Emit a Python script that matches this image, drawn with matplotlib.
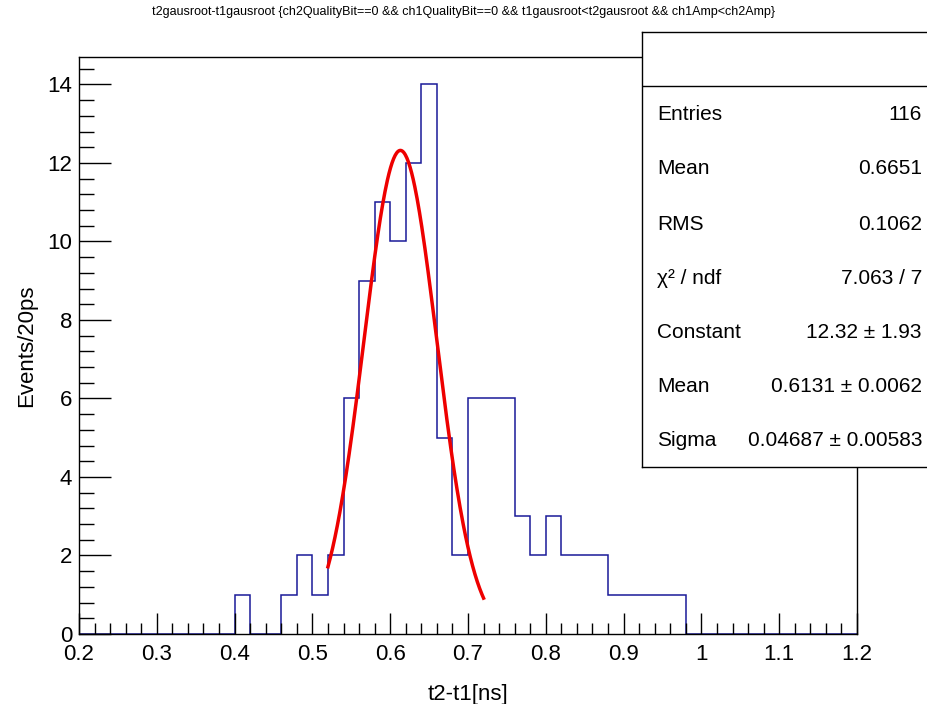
import matplotlib
matplotlib.use("Agg")
import matplotlib.pyplot as plt
from matplotlib.ticker import MultipleLocator
import numpy as np

plt.rcParams['font.family'] = ['Liberation Sans', 'DejaVu Sans']

# histogram: 20 ps bins from 0.2 to 1.2 ns
bin_edges = np.round(np.arange(0.2, 1.2001, 0.02), 2)
counts = [0, 0, 0, 0, 0, 0, 0, 0, 0, 0,
          1, 0, 0, 1, 2, 1, 2, 6, 9, 11,
          10, 12, 14, 5, 2, 6, 6, 6, 3, 2,
          3, 2, 2, 2, 1, 1, 1, 1, 1, 0,
          0, 0, 0, 0, 0, 0, 0, 0, 0, 0]

# gaussian fit results
fit_const = 12.32
fit_mean = 0.6131
fit_sigma = 0.04687
fit_range = (0.52, 0.72)

stat_labels = ["Entries", "Mean", "RMS", "χ² / ndf", "Constant", "Mean", "Sigma"]
stat_values = ["116", "0.6651", "0.1062", "7.063 / 7", "12.32 ± 1.93",
               "0.6131 ± 0.0062", "0.04687 ± 0.00583"]

W, H = 927, 704
fig = plt.figure(figsize=(W / 100, H / 100), dpi=100)

ax = fig.add_axes([79 / W, (H - 634) / H, (857 - 79) / W, (634 - 57) / H])
ax.stairs(counts, bin_edges, color='#1a1a99', linewidth=1.1, baseline=0)

xf = np.linspace(fit_range[0], fit_range[1], 200)
yf = fit_const * np.exp(-0.5 * ((xf - fit_mean) / fit_sigma) ** 2)
ax.plot(xf, yf, color='#ee0000', linewidth=2.5)

ax.set_xlim(0.2, 1.2)
ax.set_ylim(0, 14.7)
ax.xaxis.set_major_locator(MultipleLocator(0.1))
ax.xaxis.set_minor_locator(MultipleLocator(0.02))
ax.yaxis.set_major_locator(MultipleLocator(2))
ax.yaxis.set_minor_locator(MultipleLocator(0.4))
ax.xaxis.set_major_formatter(plt.FuncFormatter(lambda v, p: f"{v:g}"))
ax.tick_params(which='both', direction='in', top=False, right=False,
               labelsize=16, width=1)
ax.tick_params(axis='x', which='major', length=15, pad=7)
ax.tick_params(axis='x', which='minor', length=8)
ax.tick_params(axis='y', which='major', length=23, pad=5)
ax.tick_params(axis='y', which='minor', length=11)
for s in ax.spines.values():
    s.set_linewidth(1)
ax.set_xlabel("t2-t1[ns]", fontsize=16, labelpad=14)
ax.set_ylabel("Events/20ps", fontsize=16, labelpad=7)

fig.text(0.5, (H - 12) / H, "t2gausroot-t1gausroot {ch2QualityBit==0 && ch1QualityBit==0 && "
         "t1gausroot<t2gausroot && ch1Amp<ch2Amp}", ha='center', va='center', fontsize=9)

# stats box
bx0, by_top, by_bot = 642, 32, 467
sax = fig.add_axes([bx0 / W, (H - by_bot) / H, (W + 10 - bx0) / W, (by_bot - by_top) / H])
sax.set_xticks([])
sax.set_yticks([])
sax.set_xlim(bx0, W + 10)
sax.set_ylim(by_bot, by_top)
for s in sax.spines.values():
    s.set_linewidth(1)
sax.axhline(86, color='black', linewidth=1)
row_y = [114, 169, 224, 278, 332, 386, 440]
for lab, val, yy in zip(stat_labels, stat_values, row_y):
    sax.text(657, yy, lab, ha='left', va='center', fontsize=15)
    sax.text(922, yy, val, ha='right', va='center', fontsize=15)

fig.savefig("out.png", dpi=100)
